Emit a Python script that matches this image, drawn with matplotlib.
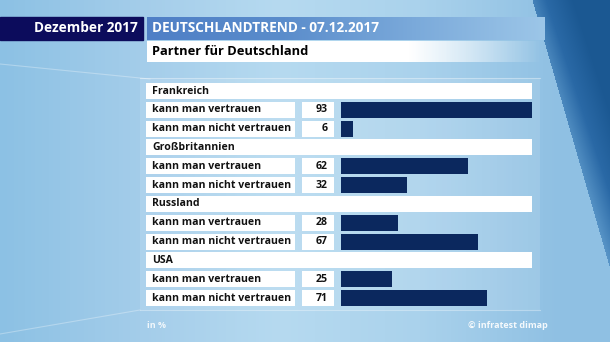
import numpy as np
import matplotlib
matplotlib.use('Agg')
import matplotlib.pyplot as plt
import matplotlib.transforms as mtransforms
from matplotlib.colors import LinearSegmentedColormap
from matplotlib.patches import Rectangle

plt.rcParams['font.family'] = ['Open Sans', 'DejaVu Sans']

# Daten
countries = ['Frankreich', 'Großbritannien', 'Russland', 'USA']
answers = ['kann man vertrauen', 'kann man nicht vertrauen']
trust = [93, 62, 28, 25]
no_trust = [6, 32, 67, 71]

month_label = 'Dezember 2017'
title = 'DEUTSCHLANDTREND - 07.12.2017'
subtitle = 'Partner für Deutschland'
unit_note = 'in %'
source = '© infratest dimap'

W, H = 610, 342
fig = plt.figure(figsize=(W / 100, H / 100), dpi=100)

# Hintergrund (Pixelkoordinaten)
bg = fig.add_axes([0, 0, 1, 1])
bg.set_xlim(0, W)
bg.set_ylim(H, 0)
bg.axis('off')

xx, yy = np.meshgrid(np.arange(W), np.arange(H))
base = LinearSegmentedColormap.from_list(
    'bg', ['#8cc1e4', '#a4cdea', '#b6daf0', '#aad2ec', '#8fc0e3'])
img = base(np.clip(xx / 560, 0, 1))[..., :3]
# dunkles Dreieck rechts
edge = 532 + 0.29 * yy
dark = LinearSegmentedColormap.from_list('dk', ['#5f9bcc', '#2a69a6', '#1b5892'])
dmask = xx > edge
dval = dark(np.clip((xx - edge) / 55 + 0.25 * (1 - yy / H), 0, 1))[..., :3]
img[dmask] = dval[dmask]
bg.imshow(img, extent=(0, W, H, 0), aspect='auto', zorder=0)
# dezente Lichtlinien links
bg.plot([0, 150], [64, 79], color='white', alpha=0.3, lw=0.8, zorder=1)
bg.plot([0, 140], [334, 310], color='white', alpha=0.3, lw=0.8, zorder=1)

# Kopfzeile
bg.add_patch(Rectangle((0, 17), 143, 23, color='#0c0c5c', zorder=2))
bg.text(138, 28.5, month_label, color='white', fontsize=9.8, fontweight='bold',
        ha='right', va='center', zorder=3)
head = LinearSegmentedColormap.from_list('hd', ['#4f7fc6', '#5a8ccb', '#7aa9da', '#9cc6e8'])
hx = np.linspace(0, 1, 200)[None, :]
bg.imshow(head(hx), extent=(147, 545, 40, 17), aspect='auto', zorder=2)
bg.text(152, 28.5, title, color='white', fontsize=9.8, fontweight='bold',
        ha='left', va='center', zorder=3)
sub = LinearSegmentedColormap.from_list(
    'sb', [(1, 1, 1, 1), (1, 1, 1, 1), (1, 1, 1, 1), (1, 1, 1, 0)])
bg.imshow(sub(hx), extent=(147, 543, 62, 41), aspect='auto', zorder=2)
bg.text(152, 51.5, subtitle, color='black', fontsize=9.3, fontweight='bold',
        ha='left', va='center', zorder=3)

# Panel hinter den Zeilen
bg.add_patch(Rectangle((140, 78), 400, 232, facecolor='white', alpha=0.10,
                       edgecolor='none', zorder=1))
bg.plot([140, 540], [310, 310], color='white', alpha=0.35, lw=0.8, zorder=1)
bg.plot([140, 540], [78, 78], color='white', alpha=0.35, lw=0.8, zorder=1)

bg.text(147, 325, unit_note, color='white', fontsize=6.5, fontweight='bold',
        ha='left', va='center', alpha=0.85)
bg.text(548, 325, source, color='white', fontsize=6.5, fontweight='bold',
        ha='right', va='center', alpha=0.9)

# Balkenachse: 0..100 % -> x 341..546 px, Zeilen 0..11
n_rows = len(countries) * 3
row_h = 18.82
y_top = 91 - row_h / 2
ax = fig.add_axes([341 / W, 1 - (y_top + n_rows * row_h) / H,
                   205 / W, n_rows * row_h / H])
ax.set_xlim(0, 100)
ax.set_ylim(n_rows - 0.5, -0.5)
ax.axis('off')
ax.patch.set_alpha(0)

px = mtransforms.blended_transform_factory(
    mtransforms.Affine2D().scale(1 / W, 1) + fig.transFigure, ax.transData)

box_h = 16 / row_h
fs = 7.6
for i, c in enumerate(countries):
    r = i * 3
    ax.add_patch(Rectangle((146, r - box_h / 2), 386, box_h, transform=px,
                           facecolor='white', edgecolor='none', clip_on=False))
    ax.text(152, r, c, transform=px, fontsize=fs, fontweight='bold',
            va='center', ha='left', color='#111111')
    for j, (lab, val) in enumerate(zip(answers, [trust[i], no_trust[i]])):
        y = r + 1 + j
        ax.add_patch(Rectangle((146, y - box_h / 2), 149, box_h, transform=px,
                               facecolor='white', edgecolor='none', clip_on=False))
        ax.add_patch(Rectangle((302, y - box_h / 2), 32, box_h, transform=px,
                               facecolor='white', edgecolor='none', clip_on=False))
        ax.text(152, y, lab, transform=px, fontsize=fs, fontweight='bold',
                va='center', ha='left', color='#111111')
        ax.text(328, y, str(val), transform=px, fontsize=fs, fontweight='bold',
                va='center', ha='right', color='#111111')
        ax.barh(y, val, height=box_h, left=0, color='#0b285e', edgecolor='none')

fig.savefig('out.png', dpi=100)
